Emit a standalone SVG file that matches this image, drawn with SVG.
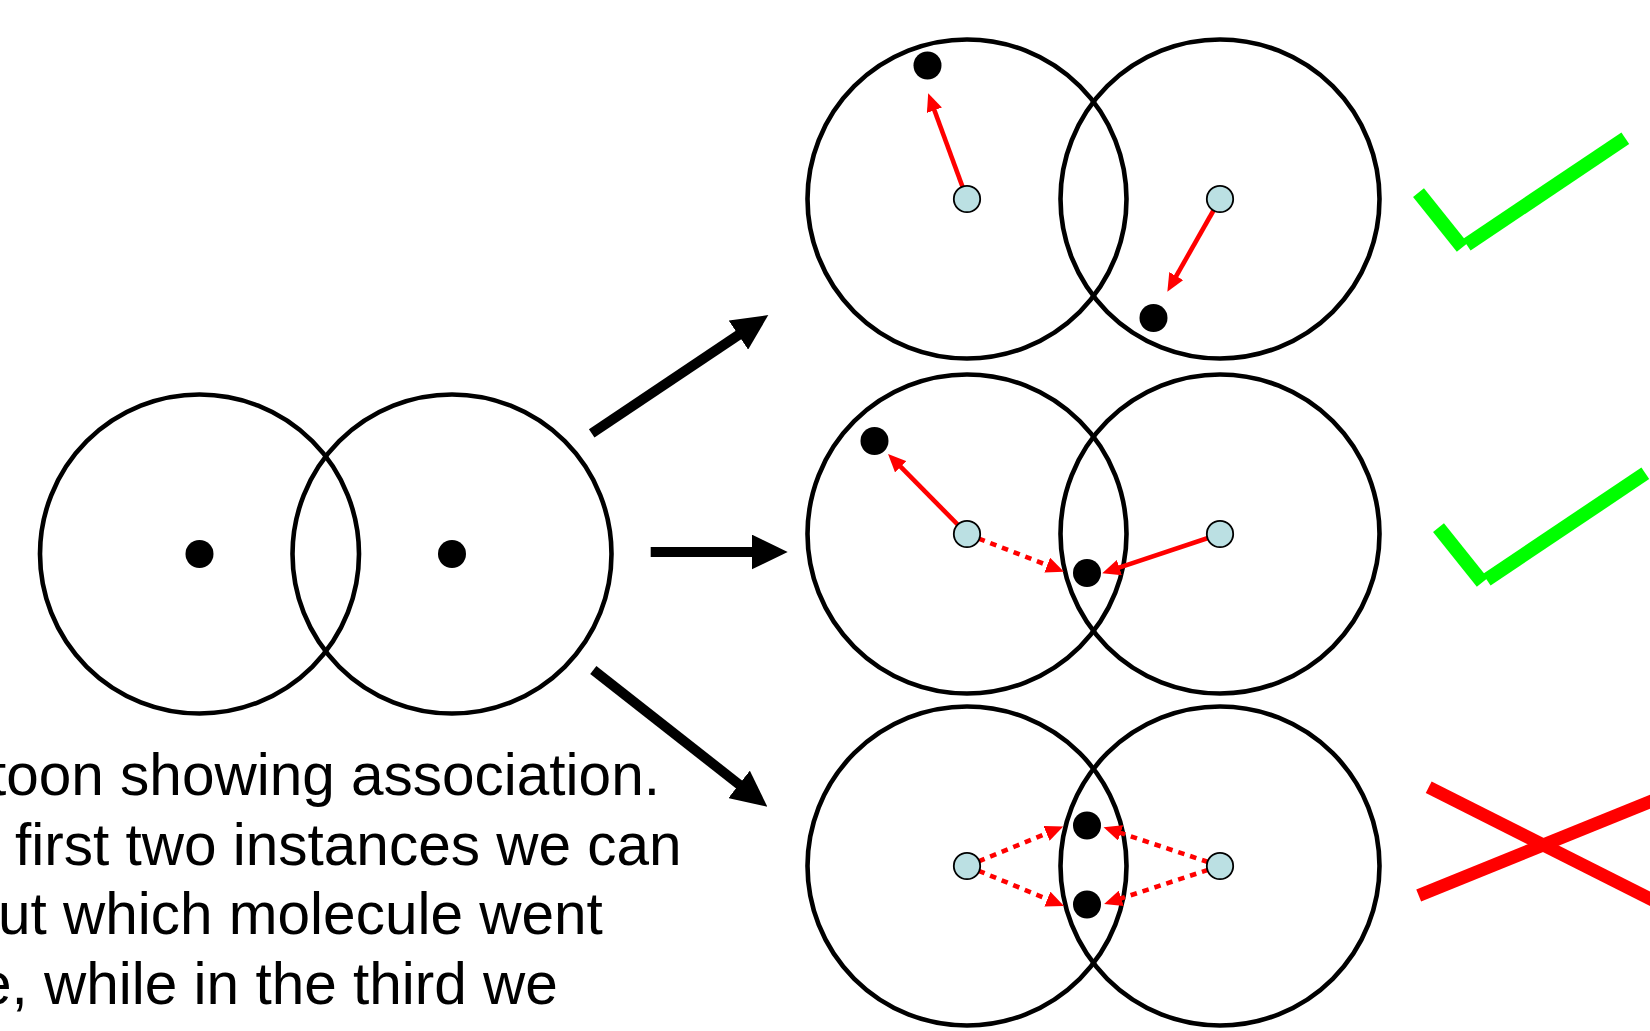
<svg xmlns="http://www.w3.org/2000/svg" width="1650" height="1031" viewBox="0 0 1650 1031">
  <defs>
    <style>
      .ring { fill: none; stroke: #000; stroke-width: 4.6; }
      .dot { fill: #000; }
      .site { fill: #bbe0e3; stroke: #000; stroke-width: 1.8; }
      .move { fill: none; stroke: #ff0000; stroke-width: 4.6; marker-end: url(#redHead); }
      .dotted { stroke-dasharray: 6.5 6; }
      .flow { fill: none; stroke: #000; stroke-width: 10; marker-end: url(#blackHead); }
      .ok { fill: none; stroke: #00ff00; stroke-width: 14; }
      .no { fill: none; stroke: #ff0000; stroke-width: 13; }
      .caption { font-family: "Liberation Sans", Arial, sans-serif; font-size: 58.5px; fill: #000; }
    </style>
    <marker id="redHead" markerUnits="userSpaceOnUse" markerWidth="18" markerHeight="16" refX="9" refY="8" orient="auto">
      <path d="M0,0 L18,8 L0,16 z" fill="#ff0000"/>
    </marker>
    <marker id="blackHead" markerUnits="userSpaceOnUse" markerWidth="36" markerHeight="35" refX="10" refY="17.5" orient="auto">
      <path d="M0,0 L36,17.5 L0,35 z" fill="#000"/>
    </marker>
  </defs>

  <rect x="0" y="0" width="1650" height="1031" fill="#fff"/>

  <!-- starting pair -->
  <g id="pair-start">
    <circle class="ring" cx="199.5" cy="554" r="159.5"/>
    <circle class="ring" cx="452" cy="554" r="159.5"/>
    <circle class="dot" cx="199.5" cy="554" r="14"/>
    <circle class="dot" cx="452" cy="554" r="14"/>
  </g>

  <!-- outcome rings -->
  <g id="pair-top">
    <circle class="ring" cx="967" cy="199" r="159.5"/>
    <circle class="ring" cx="1220" cy="199" r="159.5"/>
  </g>
  <g id="pair-middle">
    <circle class="ring" cx="967" cy="534" r="159.5"/>
    <circle class="ring" cx="1220" cy="534" r="159.5"/>
  </g>
  <g id="pair-bottom">
    <circle class="ring" cx="967" cy="866" r="159.5"/>
    <circle class="ring" cx="1220" cy="866" r="159.5"/>
  </g>

  <!-- connectors -->
  <g id="connectors">
    <line class="flow" x1="591.7" y1="433.3" x2="746.7" y2="329.5"/>
    <line class="flow" x1="650.7" y1="552" x2="761.7" y2="552"/>
    <line class="flow" x1="593.3" y1="670" x2="746.9" y2="790.6"/>

    <line class="move" x1="967" y1="199" x2="931.3" y2="101.8"/>
    <line class="move" x1="1220" y1="199" x2="1171.8" y2="283.9"/>

    <line class="move" x1="967" y1="534" x2="894.4" y2="460.4"/>
    <line class="move dotted" x1="967" y1="534" x2="1055.6" y2="568.4"/>
    <line class="move" x1="1220" y1="534" x2="1110.8" y2="570.4"/>

    <line class="move dotted" x1="967" y1="866" x2="1054.9" y2="830"/>
    <line class="move dotted" x1="967" y1="866" x2="1055.7" y2="902.5"/>
    <line class="move dotted" x1="1220" y1="866" x2="1112.1" y2="830.1"/>
    <line class="move dotted" x1="1220" y1="866" x2="1112.7" y2="901.1"/>
  </g>

  <!-- molecules and sites -->
  <g id="molecules-top">
    <circle class="site" cx="967" cy="199" r="13.2"/>
    <circle class="site" cx="1220" cy="199" r="13.2"/>
    <circle class="dot" cx="927.5" cy="65.5" r="14"/>
    <circle class="dot" cx="1153.5" cy="318" r="14"/>
  </g>
  <g id="molecules-middle">
    <circle class="site" cx="967" cy="534" r="13.2"/>
    <circle class="site" cx="1220" cy="534" r="13.2"/>
    <circle class="dot" cx="874.5" cy="441" r="14"/>
    <circle class="dot" cx="1087" cy="573" r="14"/>
  </g>
  <g id="molecules-bottom">
    <circle class="site" cx="967" cy="866" r="13.2"/>
    <circle class="site" cx="1220" cy="866" r="13.2"/>
    <circle class="dot" cx="1087" cy="825.5" r="14"/>
    <circle class="dot" cx="1087" cy="904.5" r="14"/>
  </g>

  <!-- verdict marks -->
  <g id="mark-top">
    <line class="ok" x1="1418.5" y1="192.7" x2="1462.3" y2="247.3"/>
    <line class="ok" x1="1466.7" y1="244.7" x2="1625.3" y2="138.3"/>
  </g>
  <g id="mark-middle">
    <line class="ok" x1="1438.5" y1="527.7" x2="1482.3" y2="582.3"/>
    <line class="ok" x1="1486.7" y1="579.7" x2="1645.3" y2="473.3"/>
  </g>
  <g id="mark-bottom">
    <line class="no" x1="1428.7" y1="787.3" x2="1700" y2="923.9"/>
    <line class="no" x1="1418.7" y1="895.5" x2="1700" y2="781.5"/>
  </g>

  <!-- caption -->
  <g id="caption" class="caption">
    <text x="-10" y="795">toon showing association.</text>
    <text x="15" y="865">first two instances we can</text>
    <text x="-2" y="934">ut which molecule went</text>
    <text x="-21" y="1004">e, while in the third we</text>
  </g>
</svg>
